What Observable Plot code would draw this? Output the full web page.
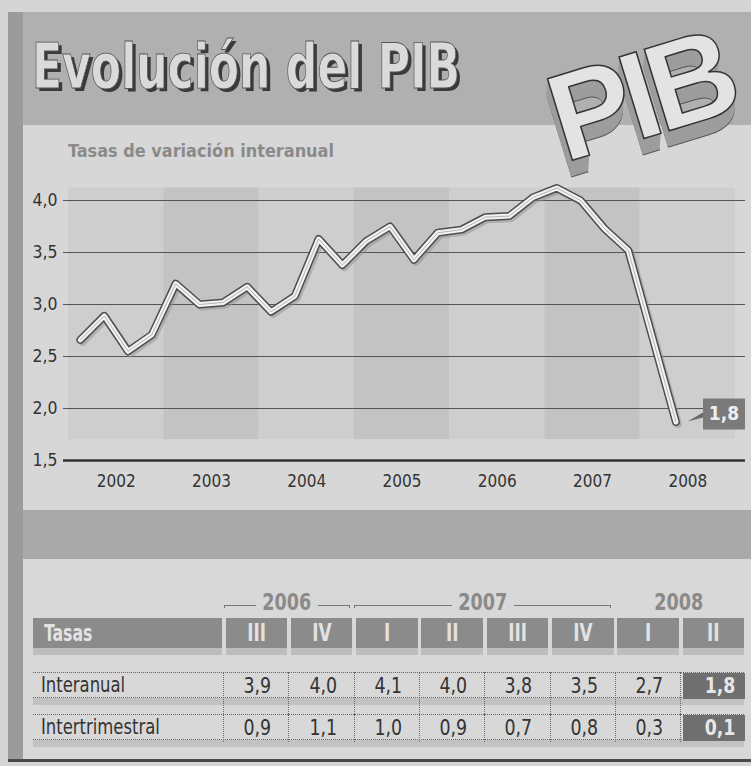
<!DOCTYPE html>
<html><head><meta charset="utf-8">
<script src="https://cdn.jsdelivr.net/npm/d3@7"></script>
<script src="https://cdn.jsdelivr.net/npm/@observablehq/plot@0.6"></script>
<style>
body{margin:0;background:#d5d5d5;}
#root{position:relative;width:751px;height:766px;overflow:hidden;background:#d5d5d5;
  font-family:"Liberation Sans Narrow","DejaVu Sans Condensed","Roboto Condensed","Liberation Sans",sans-serif;}
.abs{position:absolute;}
.fit{white-space:nowrap;transform-origin:0 0;display:inline-block;}
.c{display:inline-block;white-space:nowrap;}
</style></head>
<body><div id="root">
  <div class="abs" style="left:8px;top:12px;width:743px;height:113px;background:#b0b0b0"></div>
  <div class="abs" style="left:23px;top:125px;width:728px;height:385px;background:#d7d7d7"></div>
  <div class="abs" style="left:23px;top:510px;width:728px;height:49px;background:#a9a9a9"></div>
  <div class="abs" style="left:23px;top:559px;width:728px;height:200px;background:#d8d8d8"></div>
  <div class="abs" style="left:8px;top:12px;width:15px;height:748px;background:#9b9b9b"></div>
  <div class="abs" style="left:8px;top:759px;width:743px;height:3px;background:#4a4a4a"></div>
  <div id="title" class="abs fit" style="left:32px;top:36px;font-size:62px;line-height:1;font-weight:bold;color:#dadada;-webkit-text-stroke:0.8px #555;text-shadow:4px 3px 0 #3a3a3a;">Evolución del PIB</div>
  <div id="subtitle" class="abs fit" style="left:68px;top:141px;font-size:17px;font-weight:bold;color:#8a8a8a;">Tasas de variación interanual</div>
  <div id="chart" class="abs" style="left:0;top:170px;"></div>
  <div id="table" class="abs" style="left:0;top:0;"></div>
  <div id="logo" class="abs" style="left:548px;top:30px;width:210px;height:150px;"></div>
</div>
<script>
// ---- data ----
const years = [2002, 2003, 2004, 2005, 2006, 2007, 2008];
const periods = [
  "2002-I","2002-II","2002-III","2002-IV",
  "2003-I","2003-II","2003-III","2003-IV",
  "2004-I","2004-II","2004-III","2004-IV",
  "2005-I","2005-II","2005-III","2005-IV",
  "2006-I","2006-II","2006-III","2006-IV",
  "2007-I","2007-II","2007-III","2007-IV",
  "2008-II"];
const interanual = [2.66, 2.89, 2.55, 2.71, 3.2, 3.0, 3.02, 3.17, 2.93, 3.08, 3.63, 3.38, 3.61, 3.75, 3.43, 3.69, 3.72, 3.84, 3.85, 4.03, 4.12, 4.0, 3.73, 3.52, 1.87];
const yTicks = [1.5, 2.0, 2.5, 3.0, 3.5, 4.0];

const groupYears = ["2006", "2007", "2008"];
const groupSpans = [2, 4, 2];
const tableCols = ["III", "IV", "I", "II", "III", "IV", "I", "II"];
const rowLabels = ["Interanual", "Intertrimestral"];
const rowInteranual = [3.9, 4.0, 4.1, 4.0, 3.8, 3.5, 2.7, 1.8];
const rowIntertrimestral = [0.9, 1.1, 1.0, 0.9, 0.7, 0.8, 0.3, 0.1];

// ---- helpers ----
const FONT = '"Liberation Sans Narrow","DejaVu Sans Condensed","Roboto Condensed","Liberation Sans",sans-serif';
const fmt = v => v.toFixed(1).replace(".", ",");
const qIdx = {"I":0, "II":1, "III":2, "IV":3};
const pts = periods.map((p, i) => {
  const [y, q] = p.split("-");
  return {x: +y + (qIdx[q] + 0.5) / 4, v: interanual[i]};
});
function fit(el, w, h) {
  const r = el.getBoundingClientRect();
  const sx = w / r.width, sy = h ? h / r.height : 1;
  el.style.transform = `scale(${sx},${sy})`;
}
const cond = (t, k, o) => `<span class="c" style="transform:scaleX(${k});transform-origin:${o} center">${t}</span>`;

// ---- chart ----
const lastPt = pts[pts.length - 1];
const chart = Plot.plot({
  width: 751, height: 330,
  marginLeft: 63, marginRight: 6, marginTop: 30, marginBottom: 40,
  x: {domain: [2002, 2009], insetLeft: 5, insetRight: 10, axis: null},
  y: {domain: [1.5, 4.0]},
  style: {background: "transparent", fontFamily: FONT, color: "#333", overflow: "visible"},
  marks: [
    Plot.rect(years, {x1: d => d, x2: d => d + 1, y1: 1.7, y2: 4.12, fill: d => d % 2 ? "#c3c3c3" : "#cecece"}),
    Plot.ruleY(yTicks.filter(t => t > 1.5), {stroke: "#555", strokeWidth: 1}),
    Plot.ruleY([1.5], {stroke: "#333", strokeWidth: 2.5}),
    Plot.axisY({ticks: yTicks, tickSize: 0, tickPadding: 6, tickFormat: fmt, fontSize: 17.5, fill: "#333", label: null}),
    Plot.text(years, {x: d => d + 0.5, y: 1.5, dy: 21, text: d => String(d), fontSize: 17, fill: "#333"}),
    Plot.line(pts, {x: "x", y: "v", stroke: "#8f8f8f", strokeOpacity: 0.5, strokeWidth: 8, dx: 2, dy: 2}),
    Plot.line(pts, {x: "x", y: "v", stroke: "#4d4d4d", strokeWidth: 8}),
    Plot.line(pts, {x: "x", y: "v", stroke: "#f2f2f2", strokeWidth: 5}),
    Plot.line(pts, {x: "x", y: "v", stroke: "#b4b4b4", strokeWidth: 1}),
    (index, scales, values, dims) => {
      const px = scales.x(lastPt.x), py = scales.y(lastPt.v);
      const bx = dims.width - dims.marginRight - 42;
      const g = d3.create("svg:g");
      g.append("path").attr("d", `M${px + 12},${py} L${bx},${py - 9} L${bx},${py - 4} Z`).attr("fill", "#6a6a6a");
      g.append("rect").attr("x", bx).attr("y", py - 23).attr("width", 42).attr("height", 31).attr("fill", "#7a7a7a");
      g.append("text").attr("x", bx + 21).attr("y", py - 1.5).attr("text-anchor", "middle")
        .attr("font-size", 19).attr("font-weight", "bold").attr("fill", "#eeeeee")
        .text(fmt(rowInteranual[rowInteranual.length - 1]));
      return g.node();
    }
  ]
});
document.getElementById("chart").appendChild(chart);

// ---- table ----
const T = document.getElementById("table");
const colStart = 225.5, colStep = 65.3, colW = 61.5;
function div(style, html) {
  const d = document.createElement("div");
  d.className = "abs";
  d.setAttribute("style", style);
  if (html !== undefined) d.innerHTML = html;
  T.appendChild(d);
  return d;
}
// year groups
let ci = 0;
groupYears.forEach((yr, gi) => {
  const x0 = colStart + ci * colStep - 2;
  const x1 = colStart + (ci + groupSpans[gi] - 1) * colStep + colW - 2;
  if (gi < groupYears.length - 1) {
    div(`left:${x0}px;top:605px;width:${x1 - x0}px;height:3px;border-top:1.5px solid #777;border-left:1.5px solid #777;border-right:1.5px solid #777;box-sizing:border-box;`);
  }
  div(`left:${x0}px;top:589px;width:${x1 - x0}px;text-align:center;line-height:26px;`,
    `<span style="display:inline-block;background:#d8d8d8;padding:0 2px;">${cond(`<b style="font-size:23px;color:#8a8a8a">${yr}</b>`, 0.85, "center")}</span>`);
  ci += groupSpans[gi];
});
// header row
div(`left:33px;top:618px;width:189px;height:30px;background:#8b8b8b;box-shadow:0 7px 0 #bdbdbd;`);
div(`left:44px;top:619px;font-size:23px;font-weight:bold;color:#e2e2e2;line-height:28px;`, cond("Tasas", 0.76, "left"));
tableCols.forEach((c, j) => {
  const x = colStart + j * colStep;
  div(`left:${x}px;top:618px;width:${colW}px;height:30px;background:#8b8b8b;box-shadow:0 7px 0 #bdbdbd;color:#e2e2e2;font-weight:bold;font-size:25px;line-height:30px;text-align:center;`, cond(c, 0.75, "center"));
});
// data rows
[rowInteranual, rowIntertrimestral].forEach((row, ri) => {
  const top = 672 + ri * 42;
  div(`left:33px;top:${top}px;width:${colStart + 7 * colStep + colW - 33}px;height:26px;border-top:1px dotted #666;border-bottom:1px dotted #666;box-sizing:border-box;box-shadow:0 7px 0 #c2c2c2;`);
  div(`left:41px;top:${top}px;font-size:21px;color:#333;line-height:27px;`, cond(rowLabels[ri], 0.87, "left"));
  row.forEach((v, j) => {
    const x = colStart + j * colStep - 2.5;
    const last = j === row.length - 1;
    div(`left:${x}px;top:${top}px;width:${last ? colW + 2.5 : colStep}px;height:${ri === 0 ? 42 : 28}px;border-left:1px dotted #666;box-sizing:border-box;`);
    div(`left:${last ? x + 3 : x}px;top:${top + 1}px;width:${last ? colW : colStep}px;height:26px;box-sizing:border-box;padding-right:${last ? 9 : 17}px;text-align:right;font-size:21px;line-height:26px;${last ? "background:#6f6f6f;color:#e6e6e6;font-weight:bold;" : "color:#333;"}`, cond(fmt(v), 0.92, "right"));
  });
});

// ---- logo ----
const L = document.getElementById("logo");
const sh = [];
for (let i = 1; i <= 15; i++) sh.push(`${-i * 0.4}px ${i}px 0 #9d9d9d`);
sh.push(`-6px 16px 0 #555`);
L.innerHTML = `<div style="position:absolute;left:0px;top:-6px;font-family:'Liberation Sans','DejaVu Sans',sans-serif;font-weight:bold;font-size:124px;letter-spacing:-8px;color:#e3e3e3;-webkit-text-stroke:1.5px #333;text-shadow:${sh.join(",")};transform:rotate(-17deg);transform-origin:50% 50%;">PIB</div>`;

// ---- fit texts ----
fit(document.getElementById("title"), 428);
fit(document.getElementById("subtitle"), 266);
</script>
</body></html>
